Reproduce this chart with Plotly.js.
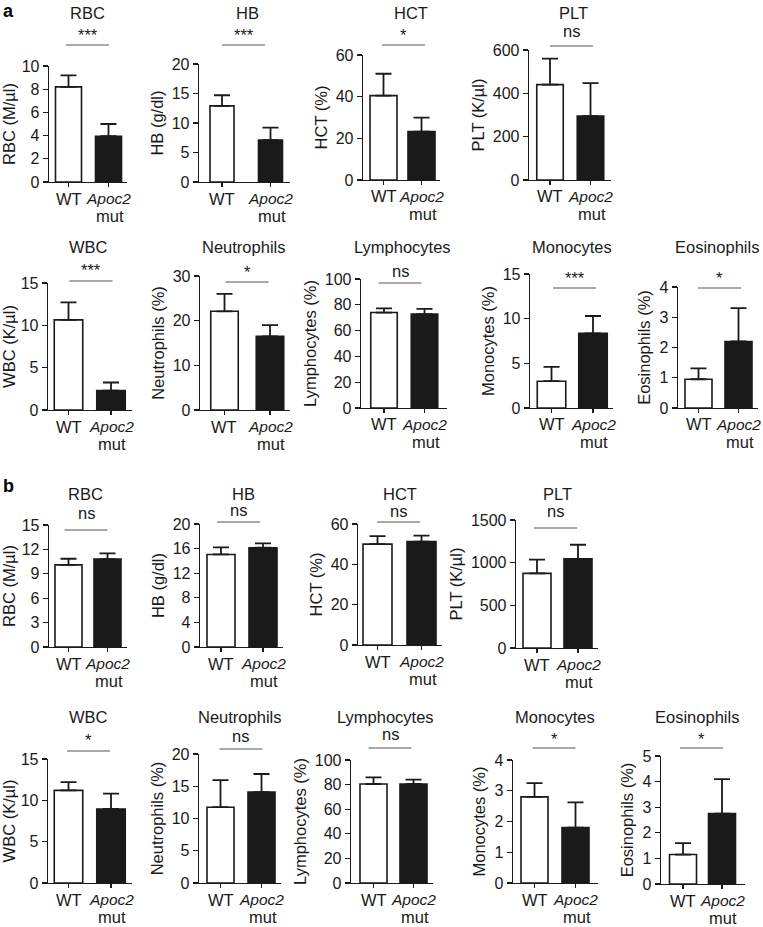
<!DOCTYPE html>
<html><head><meta charset="utf-8">
<script src="https://cdn.plot.ly/plotly-3.0.1.min.js"></script>
<style>html,body{margin:0;padding:0;background:#fff}#chart{width:763px;height:927px}</style>
</head><body><div id="chart"></div>
<script>
// ---------- DATA ----------
const groups = ['WT', 'Apoc2 mut'];
const groupLine1 = ['WT', '<i>Apoc2</i>'];
const groupLine2 = ['', 'mut'];
const panelNames = ['RBC','HB','HCT','PLT','WBC','Neutrophils','Lymphocytes','Monocytes','Eosinophils'];
const yTitles = ['RBC (M/µl)','HB (g/dl)','HCT (%)','PLT (K/µl)','WBC (K/µl)','Neutrophils (%)','Lymphocytes (%)','Monocytes (%)','Eosinophils (%)'];

// panel a
const aWT     = [8.2, 12.9, 40.5, 440, 10.65, 22.1, 74.0, 3.0, 0.95];
const aWTerr  = [1.0, 1.8, 10.5, 120, 2.05, 3.9, 3.2, 1.6, 0.36];
const aMut    = [3.95, 7.1, 23.2, 295, 2.3, 16.5, 72.8, 8.35, 2.2];
const aMutErr = [1.05, 2.1, 6.7, 152, 0.95, 2.5, 4.1, 1.95, 1.1];
const aSig    = ['***','***','*','ns','***','*','ns','***','*'];
const aYmax   = [10, 20, 60, 600, 15, 30, 100, 15, 4];
const aDtick  = [2, 5, 20, 200, 5, 10, 20, 5, 1];

// panel b
const bWT     = [10.1, 15.05, 50.0, 875, 11.2, 11.75, 80.5, 2.8, 1.15];
const bWTerr  = [0.75, 1.15, 4.0, 160, 1.0, 4.2, 5.4, 0.45, 0.45];
const bMut    = [10.8, 16.15, 51.3, 1045, 8.95, 14.1, 80.5, 1.8, 2.75];
const bMutErr = [0.7, 0.7, 2.9, 165, 1.85, 2.8, 3.6, 0.82, 1.35];
const bSig    = ['ns','ns','ns','ns','*','ns','ns','*','*'];
const bYmax   = [15, 20, 60, 1500, 15, 20, 100, 4, 5];
const bDtick  = [3, 4, 20, 500, 5, 5, 20, 1, 1];

// ---------- LAYOUT GEOMETRY (pixels) ----------
const geoA = [
 {L:49,R:127,T:66,B:182,c0:68.5,c1:108.5,bw:26,  tx:87, sx:87.5, ty:13, sy:33, ly:45},
 {L:199,R:290,T:64,B:182,c0:222,c1:270.5,bw:24,  tx:247,sx:243.5,ty:13, sy:33, ly:45},
 {L:363,R:440,T:55,B:180,c0:383.5,c1:421.5,bw:27,tx:411,sx:403.5,ty:13, sy:33, ly:45},
 {L:529,R:611,T:50,B:180,c0:550,c1:590.5,bw:26.5,tx:573,sx:571.5,ty:13, sy:33, ly:46},
 {L:48,R:132,T:283,B:410,c0:68.5,c1:111,bw:28.5, tx:88, sx:91,   ty:247,sy:268,ly:281},
 {L:200,R:290,T:276,B:410,c0:224.5,c1:270,bw:27.5,tx:243,sx:247, ty:247,sy:270,ly:282},
 {L:361,R:447,T:279,B:408,c0:384,c1:424.5,bw:26.5,tx:403,sx:400, ty:247,sy:272,ly:283},
 {L:530,R:613,T:274,B:408,c0:551.5,c1:593,bw:28.5,tx:572,sx:574.5,ty:247,sy:276,ly:288},
 {L:678,R:758,T:287,B:408,c0:698.5,c1:738.5,bw:27,tx:717,sx:719.5,ty:247,sy:276,ly:288}
];
const geoB = [
 {L:49,R:127,T:525,B:647,c0:68.5,c1:107.5,bw:27, tx:85, sx:86,   ty:494,sy:514,ly:530},
 {L:200,R:283,T:524,B:647,c0:221,c1:263,bw:28,   tx:243,sx:238.5,ty:494,sy:511,ly:522},
 {L:358,R:442,T:524,B:645,c0:377.5,c1:421.5,bw:29,tx:400,sx:398.5,ty:494,sy:512,ly:522},
 {L:516,R:598,T:520,B:648,c0:537,c1:578,bw:28,   tx:557,sx:555.5,ty:494,sy:512,ly:528},
 {L:48,R:132,T:759,B:883,c0:68.5,c1:111,bw:28.5, tx:88, sx:88.5, ty:717,sy:738,ly:751},
 {L:199,R:281,T:754,B:883,c0:220.5,c1:261.5,bw:27,tx:239,sx:241, ty:717,sy:737,ly:749},
 {L:351,R:433,T:760,B:883,c0:373.5,c1:413.5,bw:27,tx:385,sx:390, ty:717,sy:735,ly:748},
 {L:513,R:598,T:760,B:883,c0:534.5,c1:575.5,bw:27,tx:555,sx:554, ty:717,sy:737,ly:748},
 {L:661,R:745,T:756,B:884,c0:683,c1:722,bw:27,   tx:697,sx:701.5,ty:717,sy:737,ly:748}
];

const W = 763, H = 927;
const FONT = 'Liberation Sans, Arial, Helvetica, sans-serif';
const INK = '#1a1a1a';
const px = p => p / W;
const py = p => 1 - p / H;

const traces = [];
const layout = {
  width: W, height: H, margin: {l:0, r:0, t:0, b:0},
  paper_bgcolor: '#fff', plot_bgcolor: 'rgba(0,0,0,0)',
  font: {family: FONT, size: 16, color: INK},
  showlegend: false, barmode: 'overlay',
  annotations: [], shapes: []
};

const sets = [
  {geo: geoA, wt: aWT, wtE: aWTerr, mu: aMut, muE: aMutErr, sig: aSig, ymax: aYmax, dt: aDtick},
  {geo: geoB, wt: bWT, wtE: bWTerr, mu: bMut, muE: bMutErr, sig: bSig, ymax: bYmax, dt: bDtick}
];

function ann(text, x, y, size, extra) {
  return Object.assign({text: text, xref: 'paper', yref: 'paper', x: px(x), y: py(y),
    xanchor: 'center', yanchor: 'middle', showarrow: false,
    font: {size: size, color: INK, family: FONT}}, extra || {});
}

let k = 0;
sets.forEach(s => {
  s.geo.forEach((g, i) => {
    k += 1;
    const xa = 'x' + (k === 1 ? '' : k), ya = 'y' + (k === 1 ? '' : k);
    const xk = 'xaxis' + (k === 1 ? '' : k), yk = 'yaxis' + (k === 1 ? '' : k);
    const unit = g.c1 - g.c0;
    traces.push({
      type: 'bar', x: groups, y: [s.wt[i], s.mu[i]], xaxis: xa, yaxis: ya,
      width: g.bw / unit,
      marker: {color: ['#ffffff', INK], line: {color: INK, width: 1.6}},
      error_y: {type: 'data', symmetric: false, array: [s.wtE[i], s.muE[i]], arrayminus: [0, 0],
                color: INK, thickness: 1.8, width: 8},
      hoverinfo: 'none', cliponaxis: false
    });
    layout[xk] = {
      domain: [px(g.L), px(g.R)], anchor: ya, type: 'category',
      categoryorder: 'array', categoryarray: groups,
      range: [(g.L - g.c0) / unit, 1 + (g.R - g.c1) / unit],
      showline: true, linecolor: INK, linewidth: 1.3, ticks: 'outside', ticklen: 4,
      tickwidth: 1.3, tickcolor: INK, showgrid: false, zeroline: false, fixedrange: true,
      showticklabels: false
    };
    layout[yk] = {
      domain: [py(g.B), py(g.T)], anchor: xa, range: [0, s.ymax[i]], tick0: 0, dtick: s.dt[i],
      showline: true, linecolor: INK, linewidth: 1.3, ticks: 'outside', ticklen: 5,
      tickwidth: 1.3, tickcolor: INK, showgrid: false, zeroline: false, fixedrange: true,
      tickfont: {size: 16, color: INK, family: FONT},
      title: {text: yTitles[i], font: {size: 16.5, color: INK, family: FONT}, standoff: 4}
    };
    // category labels
    [g.c0, g.c1].forEach((c, j) => {
      layout.annotations.push(ann(groupLine1[j], c, g.B + 16.5, j === 1 ? 15.5 : 16.5));
      if (groupLine2[j]) layout.annotations.push(ann(groupLine2[j], c + 1, g.B + 34, 16.5));
    });
    // panel title
    layout.annotations.push(ann(panelNames[i], g.tx, g.ty, 16.5));
    // significance label + line
    const isStar = s.sig[i].indexOf('*') >= 0;
    layout.annotations.push(ann(s.sig[i], g.sx, g.sy + (isStar ? 2 : -1.5), 16.5));
    layout.shapes.push({type: 'line', xref: 'paper', yref: 'paper',
      x0: px(g.sx - 21.5), x1: px(g.sx + 21.5), y0: py(g.ly), y1: py(g.ly),
      line: {color: '#555', width: 1.1}});
  });
});

// panel letters
layout.annotations.push(ann('<b>a</b>', 1, 11, 18, {xanchor: 'left', font: {size: 18, color: '#000', family: FONT}}));
layout.annotations.push(ann('<b>b</b>', 1, 486, 18, {xanchor: 'left', font: {size: 18, color: '#000', family: FONT}}));

Plotly.newPlot('chart', traces, layout, {staticPlot: true, displayModeBar: false});
</script></body></html>
